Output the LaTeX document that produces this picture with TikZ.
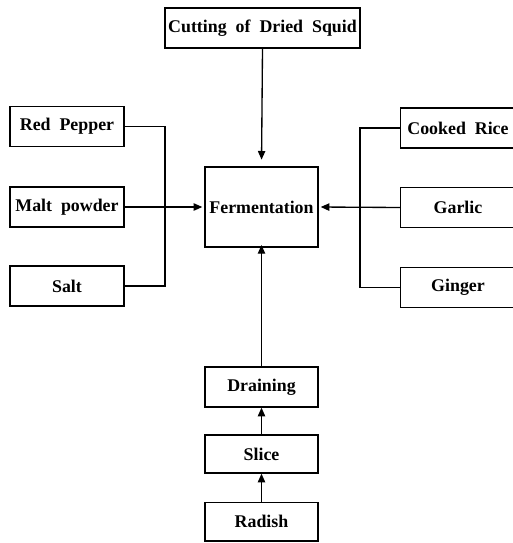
\documentclass[tikz,border=0pt]{standalone}
\usepackage{fontspec}
\setmainfont{Liberation Serif}
\usetikzlibrary{arrows.meta}
\newcommand{\wsp}{\hspace{0.5em}}
\begin{document}
\begin{tikzpicture}[x=0.75pt,y=-0.75pt,
  box/.style={draw,line width=1pt,inner sep=0pt,font=\bfseries\fontsize{13.4}{15}\selectfont},
  sbox/.style={box,minimum width=85.5pt,minimum height=30pt},
  conn/.style={line width=1pt},
  arr/.style={conn,-{Triangle[length=6.5pt,width=5.5pt]}}]
\useasboundingbox (0,0) rectangle (512,543);
\node[box,minimum width=146.25pt,minimum height=30pt] (cut) at (262.5,28) {Cutting\wsp of\wsp Dried\wsp Squid};
\node[sbox] (red) at (67,126.5) {Red\wsp Pepper};
\node[sbox] (malt) at (67,207) {Malt\wsp powder};
\node[sbox] (salt) at (67,286) {Salt};
\node[box,minimum width=84.75pt,minimum height=60pt] (fer) at (261.5,207) {Fermentation};
\node[sbox,minimum width=86pt,anchor=west] (rice) at (400,128) {\hspace*{2pt}Cooked\wsp Rice\hspace*{2pt}};
\node[sbox,minimum width=86pt,anchor=west] (garlic) at (400,207.5) {Garlic};
\node[sbox,minimum width=86pt,anchor=west] (ginger) at (400,287.5) {Ginger};
\node[sbox,minimum width=84.75pt] (drain) at (261.5,387) {Draining};
\node[sbox,minimum width=84.75pt,minimum height=28.5pt] (slice) at (261.5,454) {Slice};
\node[sbox,minimum width=84.75pt,minimum height=29pt] (radish) at (261.5,521.5) {Radish};
\coordinate (lt) at (165,126.5);
\coordinate (lb) at (165,286);
\coordinate (rt) at (360,128);
\coordinate (rb) at (360,287.5);
\draw[arr,shorten >=5pt] (cut.south) -- (fer.north);
\draw[conn] (red.east) -- (lt) -- (lb) -- (salt.east);
\draw[arr,shorten >=1.5pt] (malt.east) -- (fer.west);
\draw[conn] (rice.west) -- (rt) -- (rb) -- (ginger.west);
\draw[arr,shorten >=1.5pt] (garlic.west) -- (fer.east);
\draw[arr,shorten >=-2pt] (drain.north) -- (fer.south);
\draw[arr] (slice.north) -- (drain.south);
\draw[arr] (radish.north) -- (slice.south);
\end{tikzpicture}
\end{document}
